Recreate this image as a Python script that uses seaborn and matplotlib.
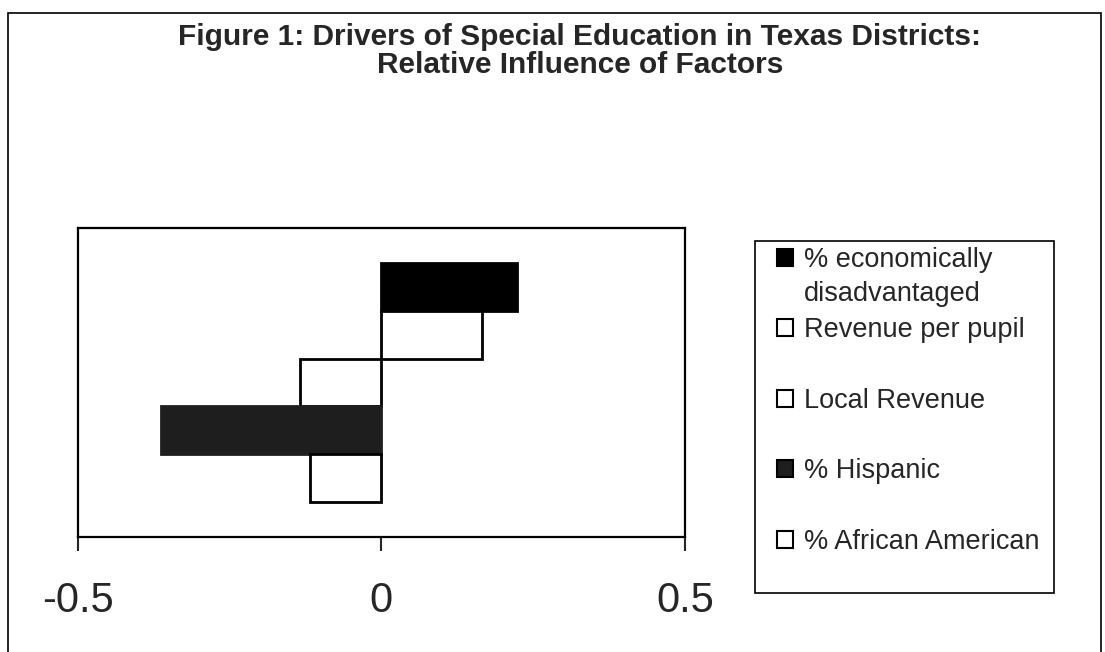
import matplotlib
matplotlib.use("Agg")
import matplotlib.pyplot as plt
import matplotlib.patches as mpatches
from matplotlib.text import Annotation
import seaborn as sns

# values
factors = ["% economically", "Revenue per pupil", "Local Revenue",
           "% Hispanic", "% African American"]
factor_2nd_line = "disadvantaged"
influence = [0.223, 0.166, -0.134, -0.363, -0.117]
group = ["Texas"] * len(factors)
x_ticks = [-0.5, 0, 0.5]
x_labels = ["-0.5", "0", "0.5"]

FILLS = ["#000000", "#ffffff", "#ffffff", "#1e1e1e", "#ffffff"]
W, H = 1105, 652

sns.set_style("white")
plt.rcParams["font.family"] = ["Liberation Sans", "DejaVu Sans"]

fig = plt.figure(figsize=(W / 100, H / 100), dpi=100)
ax = fig.add_axes([77.5 / W, 1 - 537 / H, 607.5 / W, 309 / H])

sns.barplot(x=influence, y=group, hue=factors, hue_order=factors, orient="h",
            palette=FILLS, width=0.775, dodge=True, saturation=1, legend=False, ax=ax)

for bar, fc in zip(ax.patches, FILLS):
    bar.set_edgecolor("black" if fc == "#ffffff" else fc)
    bar.set_linewidth(2)

ax.set_xlim(-0.5, 0.5)
ax.set_ylim(0.5, -0.5)
ax.set_xticks(x_ticks)
ax.set_xticklabels(x_labels, fontsize=30)
ax.set_yticks([])
ax.set_ylabel("")
ax.tick_params(axis="x", direction="out", length=10, width=1.5, pad=22, bottom=True)
for sp in ax.spines.values():
    sp.set_visible(True)
    sp.set_color("black")
    sp.set_linewidth(1.6)

# legend: entries without frame, plain box drawn separately
handles = [mpatches.Patch(facecolor=fc, edgecolor="black", linewidth=1.5) for fc in FILLS]
leg = fig.legend(handles, factors, loc="upper left", bbox_to_anchor=(777 / W, 1 - 247 / H),
                 fontsize=19.5, frameon=False, handlelength=0.6, handleheight=0.6,
                 handletextpad=0.4, labelspacing=1.64, borderpad=0, borderaxespad=0)
second = Annotation(factor_2nd_line, xy=(0, 0.5), xycoords=leg.get_texts()[0],
                    xytext=(0, -24.5), textcoords="offset points",
                    ha="left", va="center", fontsize=19.5, zorder=6)
fig.add_artist(second)
fig.add_artist(mpatches.Rectangle((755 / W, 1 - 593 / H), 299 / W, 352 / H,
                                  transform=fig.transFigure, fill=False,
                                  edgecolor="black", linewidth=1.2))

fig.text(580 / W, 1 - 37 / H, "Figure 1: Drivers of Special Education in Texas Districts:",
         ha="center", va="center", fontsize=21.5, fontweight="bold")
fig.text(580 / W, 1 - 65 / H, "Relative Influence of Factors",
         ha="center", va="center", fontsize=21.5, fontweight="bold")

# page frame around the chart
fig.add_artist(mpatches.Rectangle((8 / W, -0.05), 1093 / W, 1.05 - 13 / H,
                                  transform=fig.transFigure, fill=False,
                                  edgecolor="black", linewidth=1.2))

fig.savefig("out.png", dpi=100)
